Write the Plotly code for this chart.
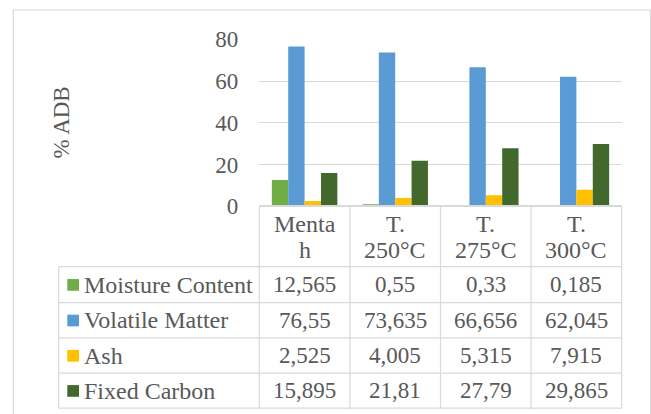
import plotly.graph_objects as go

# ---- data ----
categories = ["Mentah", "T. 250°C", "T. 275°C", "T. 300°C"]
header_lines = [["Menta", "h"], ["T.", "250°C"], ["T.", "275°C"], ["T.", "300°C"]]
series_names = ["Moisture Content", "Volatile Matter", "Ash", "Fixed Carbon"]
moisture = [12.565, 0.55, 0.33, 0.185]
volatile = [76.55, 73.635, 66.656, 62.045]
ash = [2.525, 4.005, 5.315, 7.915]
fixed_carbon = [15.895, 21.81, 27.79, 29.865]
y_ticks = [0, 20, 40, 60, 80]
colors = ["#70AD47", "#5B9BD5", "#FFC000", "#43682B"]

series_values = [moisture, volatile, ash, fixed_carbon]

# ---- geometry (pixels) ----
W, H = 651, 414
PLOT_L, PLOT_R, PLOT_T, PLOT_B = 259.3, 621.7, 39.3, 206.3
LEG_L = 58.7
ROW_EDGES = [266.7, 302.6, 337.9, 373.2, 408.2]
COL_W = (PLOT_R - PLOT_L) / len(categories)
GRID = "#D9D9D9"
TXT = "#595959"
FONT = "Liberation Serif, Times New Roman, serif"
FS = 23
FS_LABEL = 24


def fx(x):
    return x / W


def fy(y):
    return 1 - y / H


def fmt(v):
    return str(v).replace(".", ",")


fig = go.Figure()
for name, vals, col in zip(series_names, series_values, colors):
    fig.add_trace(go.Bar(x=categories, y=vals, name=name, marker_color=col,
                         marker_line_width=0))

shapes = []


def hline(y, x0, x1, width=1.2):
    shapes.append(dict(type="line", xref="paper", yref="paper",
                       x0=fx(x0), x1=fx(x1), y0=fy(y), y1=fy(y),
                       line=dict(color=GRID, width=width)))


def vline(x, y0, y1):
    shapes.append(dict(type="line", xref="paper", yref="paper",
                       x0=fx(x), x1=fx(x), y0=fy(y0), y1=fy(y1),
                       line=dict(color=GRID, width=1.2)))


# chart frame
shapes.append(dict(type="rect", xref="paper", yref="paper",
                   x0=fx(13.3), x1=fx(650.5), y0=fy(10), y1=fy(440),
                   line=dict(color=GRID, width=1.2)))

# data table grid (top edge doubles as the category axis line)
hline(PLOT_B - 0.4, PLOT_L, PLOT_R, width=2)
for y in ROW_EDGES:
    hline(y, LEG_L, PLOT_R)
vline(LEG_L, ROW_EDGES[0], ROW_EDGES[-1])
for i in range(len(categories) + 1):
    vline(PLOT_L + i * COL_W, PLOT_B, ROW_EDGES[-1])

annotations = []


def text(x, y, s, xanchor="center", size=FS):
    annotations.append(dict(x=fx(x), y=fy(y), xref="paper", yref="paper",
                            text=s, showarrow=False, xanchor=xanchor,
                            yanchor="middle", borderpad=0,
                            font=dict(family=FONT, size=size, color=TXT)))


# header: category names, two lines each
for i, lines in enumerate(header_lines):
    cx = PLOT_L + (i + 0.5) * COL_W
    text(cx, 224.0, lines[0], size=FS_LABEL)
    text(cx, 250.0, lines[1], size=FS_LABEL)

# rows: legend key + values
for r, (name, vals, col) in enumerate(zip(series_names, series_values, colors)):
    cy = (ROW_EDGES[r] + ROW_EDGES[r + 1]) / 2
    shapes.append(dict(type="rect", xref="paper", yref="paper",
                       x0=fx(67.3), x1=fx(79.0), y0=fy(cy - 5.6), y1=fy(cy + 6.1),
                       fillcolor=col, line=dict(width=0)))
    text(83.3, cy, name, xanchor="left", size=FS_LABEL)
    for i, v in enumerate(vals):
        text(PLOT_L + (i + 0.5) * COL_W, cy, fmt(v))

# axis title
annotations.append(dict(x=fx(60.5), y=fy(123), xref="paper", yref="paper",
                        text="% ADB", showarrow=False, textangle=-90,
                        xanchor="center", yanchor="middle",
                        font=dict(family=FONT, size=FS, color=TXT)))

fig.update_layout(
    width=W, height=H,
    margin=dict(l=0, r=0, t=0, b=0, pad=0, autoexpand=False),
    paper_bgcolor="white", plot_bgcolor="white",
    barmode="group", bargap=0.277, bargroupgap=0,
    showlegend=False,
    shapes=shapes, annotations=annotations,
    xaxis=dict(domain=[fx(PLOT_L), fx(PLOT_R)], range=[-0.5, 3.5],
               showticklabels=False, showgrid=False, zeroline=False,
               showline=False, fixedrange=True, automargin=False),
    yaxis=dict(domain=[fy(PLOT_B), fy(PLOT_T)], range=[0, 80],
               tickvals=y_ticks, ticktext=[str(t) for t in y_ticks],
               showgrid=True, gridcolor=GRID, gridwidth=1.2,
               zeroline=False, showline=False, ticks="", automargin=False,
               ticklabelstandoff=20,
               tickfont=dict(family=FONT, size=FS, color=TXT)),
)

fig.write_html("out.html")
